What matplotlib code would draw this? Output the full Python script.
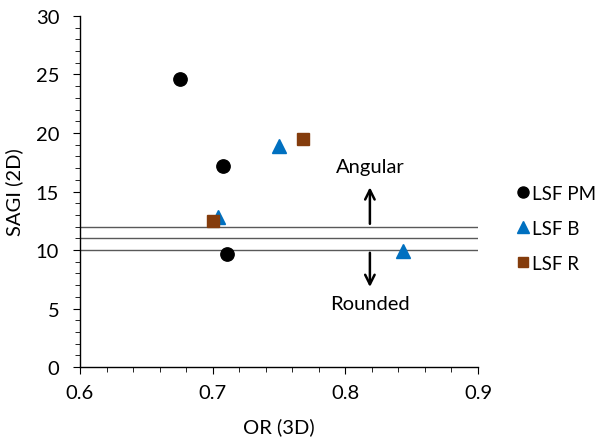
import matplotlib
matplotlib.use("Agg")
import matplotlib.pyplot as plt
from matplotlib.ticker import MultipleLocator, FormatStrFormatter

plt.rcParams['font.family'] = ['Lato', 'DejaVu Sans']
FS = 14.5

pm_x = [0.675, 0.708, 0.7105]
pm_y = [24.6, 17.15, 9.7]
b_x = [0.7502, 0.7038, 0.8437]
b_y = [18.9, 12.8, 9.95]
r_x = [0.7678, 0.7005]
r_y = [19.45, 12.45]
thresholds = [12, 11, 10]

fig = plt.figure(figsize=(5.97, 4.39), dpi=100)
ax = fig.add_axes([0.134, 0.1617, 0.6667, 0.7996])

ax.plot(pm_x, pm_y, 'o', color='black', markersize=9.6, label='LSF PM', linestyle='none')
ax.plot(b_x, b_y, '^', color='#0070C0', markersize=10.5, label='LSF B', linestyle='none')
ax.plot(r_x, r_y, 's', color='#843C0C', markersize=9, label='LSF R', linestyle='none')

for t in thresholds:
    ax.axhline(t, color='#595959', linewidth=1.0, zorder=0)

ax.annotate('', xy=(0.8185, 15.6), xytext=(0.8185, 12),
            arrowprops=dict(arrowstyle='->', color='black', lw=1.8, mutation_scale=17))
ax.annotate('', xy=(0.8185, 6.6), xytext=(0.8185, 10),
            arrowprops=dict(arrowstyle='->', color='black', lw=1.8, mutation_scale=17))
ax.text(0.8185, 17.1, 'Angular', ha='center', va='center', fontsize=FS)
ax.text(0.8185, 5.4, 'Rounded', ha='center', va='center', fontsize=FS)

ax.set_xlim(0.6, 0.9)
ax.set_ylim(0, 30)
ax.xaxis.set_major_locator(MultipleLocator(0.1))
ax.xaxis.set_minor_locator(MultipleLocator(0.02))
ax.yaxis.set_major_locator(MultipleLocator(5))
ax.yaxis.set_minor_locator(MultipleLocator(1))
ax.xaxis.set_major_formatter(FormatStrFormatter('%.1f'))

for s in ['top', 'right']:
    ax.spines[s].set_visible(False)
for s in ['left', 'bottom']:
    ax.spines[s].set_color('black')
    ax.spines[s].set_linewidth(1.0)

ax.tick_params(axis='x', which='major', direction='out', length=5, labelsize=FS, pad=7)
ax.tick_params(axis='x', which='minor', direction='out', length=3.6)
ax.tick_params(axis='y', which='major', direction='out', length=5, labelsize=FS, pad=10)
ax.tick_params(axis='y', which='minor', direction='out', length=3.6)

ax.set_xlabel('OR (3D)', fontsize=FS, labelpad=12)
ax.set_ylabel('SAGI (2D)', fontsize=FS, labelpad=9)

leg = ax.legend(loc='center left', bbox_to_anchor=(1.093, 0.395), frameon=False,
                fontsize=13.5, handletextpad=0.1, labelspacing=0.95, markerscale=0.83,
                handlelength=0.8, borderpad=0, borderaxespad=0)

fig.savefig('out.png', dpi=100)
